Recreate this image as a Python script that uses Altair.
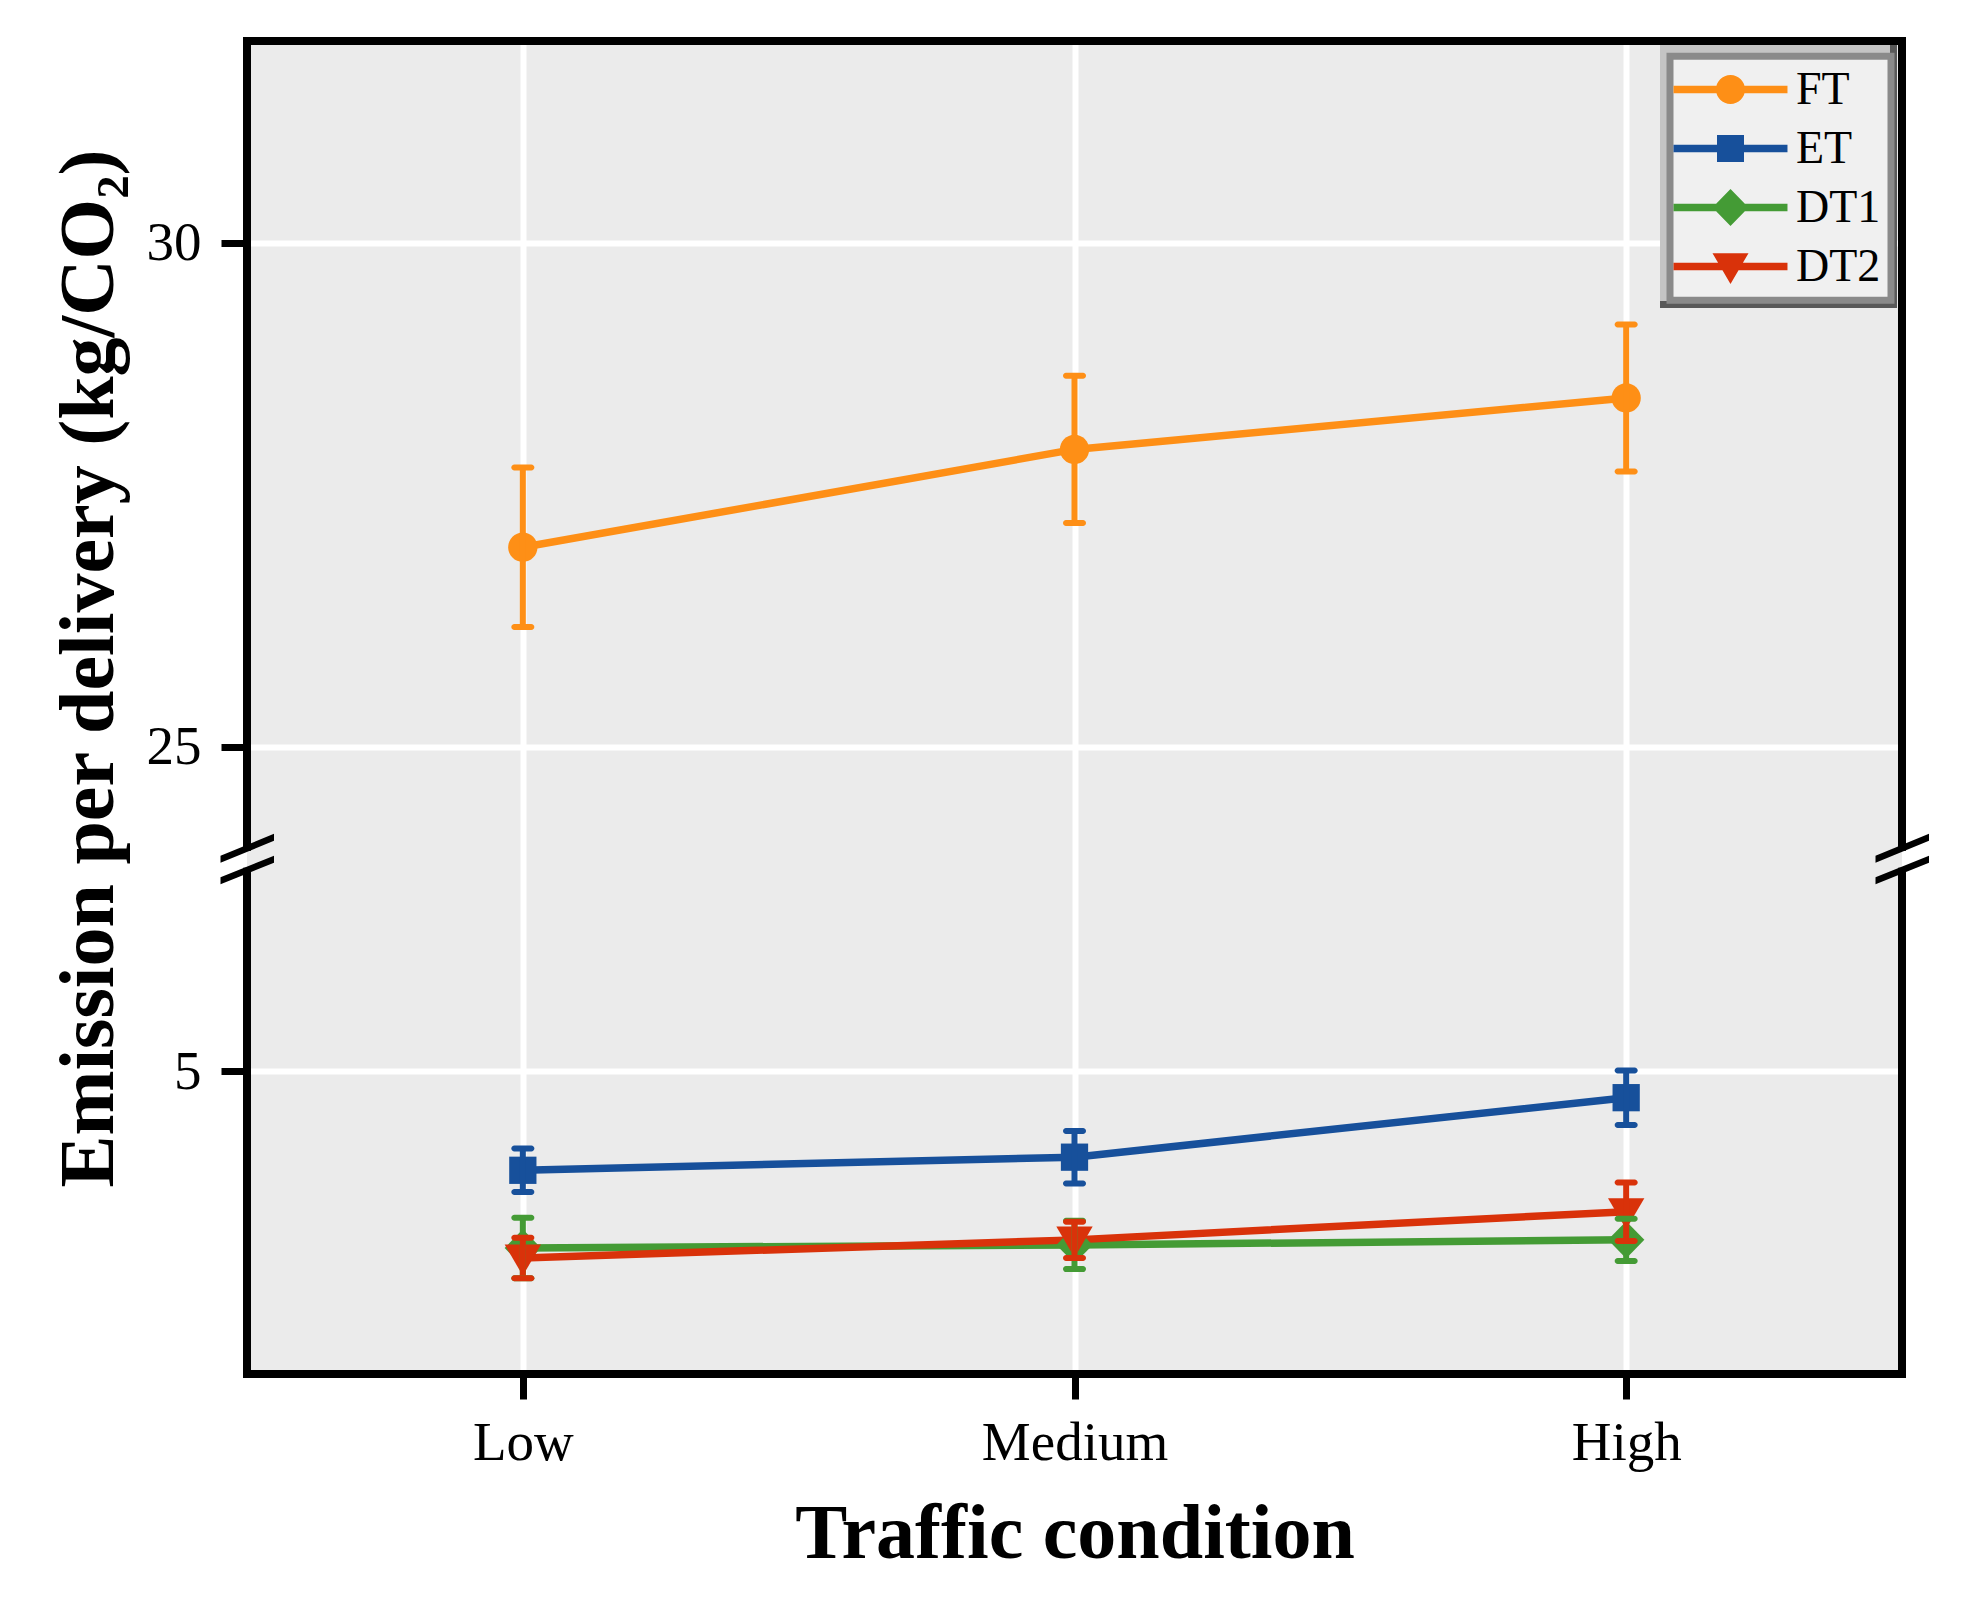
import altair as alt
import pandas as pd

# ---------------- data ----------------
categories = ["Low", "Medium", "High"]
series = ["FT", "ET", "DT1", "DT2"]
ft_mean = [26.98, 27.95, 28.46]
ft_err = [0.79, 0.73, 0.73]
et_mean = [4.02, 4.15, 4.74]
et_err = [0.215, 0.26, 0.27]
dt1_mean = [3.25, 3.28, 3.33]
dt1_err = [0.30, 0.24, 0.21]
dt2_mean = [3.15, 3.33, 3.61]
dt2_err = [0.20, 0.18, 0.29]
colors = ["#FE8F16", "#17509B", "#449B35", "#D9320A"]
y_tick_values = [5, 25, 30]

# broken axis: lower part 2..7, upper part 24..32
lower_min, lower_max = 2, 7
upper_min, upper_max = 24, 32
gap = 0.218
shift = upper_min - lower_max - gap
split = (lower_max + upper_min) / 2
split_plot = lower_max + gap / 2


def to_plot(v):
    return v - shift if v > split else v


rows = []
for name, means, errs in zip(series, [ft_mean, et_mean, dt1_mean, dt2_mean],
                             [ft_err, et_err, dt1_err, dt2_err]):
    for cat, m, e in zip(categories, means, errs):
        rows.append({"series": name, "cat": cat, "y": to_plot(m),
                     "ylo": to_plot(m - e), "yhi": to_plot(m + e)})
df = pd.DataFrame(rows)

W, H = 1655, 1333
FONT = "Liberation Serif"
BG = "#ebebeb"

marker_paths = {
    "FT": "M1.036,0A1.036,1.036 0 1,1 -1.036,0A1.036,1.036 0 1,1 1.036,0Z",
    "ET": "M-0.964,-0.964H0.964V0.964H-0.964Z",
    "DT1": "M0,-1.32L1.286,0L0,1.32L-1.286,0Z",
    "DT2": "M-1.286,-0.95H1.286L0,1.25Z",
}
legend_extent = "M-4.07,-2.214M-4.07,1.5"
legend_line = "M-4.07,-0.26H4.07V0.26H-4.07Z"
legend_paths = [legend_extent + legend_line + marker_paths[s] for s in series]
break_path = ("M-0.981,-0.111L1,-0.926L1,-0.667L-0.981,0.148Z"
              "M-0.981,0.685L1,-0.111L1,0.148L-0.981,0.944Z")

y_scale = alt.Scale(domain=[lower_min, upper_max - shift], nice=False, zero=False)
x_scale = alt.Scale(type="point", domain=categories, padding=0.5)

x_axis = alt.Axis(
    title="Traffic condition", grid=True, gridColor="white", gridWidth=6,
    domain=False, ticks=True, tickSize=25, tickWidth=7, tickColor="black",
    labelFont=FONT, labelFontSize=55, labelColor="black", labelAngle=0,
    labelBaseline="alphabetic", labelPadding=60, labelLimit=0,
    titleFont=FONT, titleFontSize=78, titleFontWeight="bold", titleColor="black",
    titleBaseline="alphabetic", titleY=183,
)
y_axis = alt.Axis(
    title="Emission per delivery (kg/CO₂)",
    values=[v if v < split else v - shift for v in y_tick_values],
    labelExpr=(f"datum.value > {split_plot} ? format(datum.value + {shift}, '.0f')"
               f" : format(datum.value, '.0f')"),
    grid=True, gridColor="white", gridWidth=6,
    domain=False, ticks=True, tickSize=26, tickWidth=7, tickColor="black",
    labelFont=FONT, labelFontSize=55, labelColor="black", labelPadding=20,
    titleFont=FONT, titleFontSize=78, titleFontWeight="bold", titleColor="black",
    titleAngle=270, titleBaseline="alphabetic", titleAlign="center",
    titleX=-135, titleY=627,
)

X = alt.X("cat:N", scale=x_scale, axis=x_axis)
color_nolegend = alt.Color("series:N", scale=alt.Scale(domain=series, range=colors), legend=None)

base = alt.Chart(df)

lines = base.mark_line(strokeWidth=7.5).encode(
    x=X, y=alt.Y("y:Q", scale=y_scale, axis=y_axis), color=color_nolegend)

points = base.mark_point(filled=True, opacity=1, size=800).encode(
    x=X, y=alt.Y("y:Q", scale=y_scale, axis=y_axis), color=color_nolegend,
    shape=alt.Shape("series:N", scale=alt.Scale(domain=series,
                    range=[marker_paths[s] for s in series]), legend=None))

rules = base.mark_rule(strokeWidth=6).encode(
    x=X, y=alt.Y("ylo:Q", scale=y_scale, axis=y_axis), y2="yhi:Q", color=color_nolegend)

caps_lo = base.mark_tick(size=23, thickness=6, opacity=1, cornerRadius=3).encode(
    x=X, y=alt.Y("ylo:Q", scale=y_scale, axis=y_axis), color=color_nolegend)
caps_hi = base.mark_tick(size=23, thickness=6, opacity=1, cornerRadius=3).encode(
    x=X, y=alt.Y("yhi:Q", scale=y_scale, axis=y_axis), color=color_nolegend)

legend_props = dict(
    title=None, orient="none", legendX=1423, legendY=15.3,
    padding=10.2, rowPadding=5, labelOffset=42.5, symbolOffset=27.3,
    symbolSize=784, symbolStrokeWidth=0, symbolOpacity=1,
    labelFont=FONT, labelFontSize=46, labelColor="black",
    fillColor="#f0f0f0", strokeColor="#8a8a8a",
)
legend_layer = base.mark_point(filled=True, opacity=1, size=784).encode(
    color=alt.Color("series:N", scale=alt.Scale(domain=series, range=colors),
                    legend=alt.Legend(**legend_props)),
    shape=alt.Shape("series:N", scale=alt.Scale(domain=series, range=legend_paths),
                    legend=alt.Legend(**legend_props)),
).transform_filter("false")

# bevelled outer frame of the legend box (decoration behind the legend)
deco_df = pd.DataFrame({"k": [0]})
bevel_dark = alt.Chart(deco_df).mark_rect(color="#595959", opacity=1).encode(
    x=alt.value(1413), x2=alt.value(1650), y=alt.value(4), y2=alt.value(267))
bevel_light = alt.Chart(deco_df).mark_rect(color="#c4c4c4", opacity=1).encode(
    x=alt.value(1413), x2=alt.value(1643), y=alt.value(4), y2=alt.value(260))

# plot frame drawn above the grid
frame = alt.Chart(deco_df).mark_rect(
    fillOpacity=0, stroke="black", strokeWidth=8
).encode(x=alt.value(0), x2=alt.value(W), y=alt.value(0), y2=alt.value(H))

# gap in the spines at the axis break
gap_df = pd.DataFrame({"g1": [lower_max + 0.02], "g2": [lower_max + gap - 0.03]})
gap_layers = []
for x0, x1, col in [(-4.5, 0, "white"), (0, 4.5, BG), (W, W + 4.5, "white"), (W - 4.5, W, BG)]:
    gap_layers.append(
        alt.Chart(gap_df).mark_rect(color=col, opacity=1).encode(
            x=alt.value(x0), x2=alt.value(x1),
            y=alt.Y("g1:Q", scale=y_scale, axis=y_axis), y2="g2:Q")
    )

break_df = pd.DataFrame({"y": [split_plot]})
break_left = alt.Chart(break_df).mark_point(
    shape=break_path, size=2916, filled=True, color="black", opacity=1
).encode(x=alt.value(0), y=alt.Y("y:Q", scale=y_scale, axis=y_axis))
break_right = alt.Chart(break_df).mark_point(
    shape=break_path, size=2916, filled=True, color="black", opacity=1
).encode(x=alt.value(W), y=alt.Y("y:Q", scale=y_scale, axis=y_axis))

chart = alt.layer(
    lines, points, rules, caps_lo, caps_hi, frame, *gap_layers,
    break_left, break_right, bevel_dark, bevel_light, legend_layer
).resolve_scale(
    color="independent", shape="independent"
).properties(
    width=W, height=H,
    padding={"left": 239, "top": 33, "right": 58, "bottom": 226},
    autosize=alt.AutoSizeParams(type="none"),
    view=alt.ViewBackground(fill=BG, stroke="transparent", strokeWidth=0),
).configure_view(
    fill=BG, stroke="transparent", strokeWidth=0
).configure_legend(
    strokeWidth=7
)

chart.save("out.html", embed_options={"renderer": "svg", "actions": False})
